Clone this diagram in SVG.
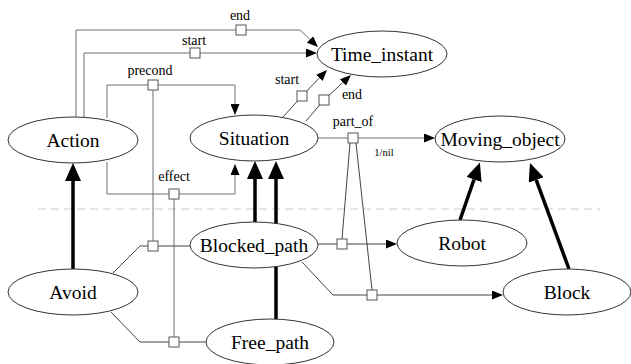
<svg xmlns="http://www.w3.org/2000/svg" width="631" height="364" viewBox="0 0 631 364">
<defs>
  <marker id="ah" markerUnits="userSpaceOnUse" viewBox="0 0 11 9" refX="0" refY="4.5" markerWidth="11" markerHeight="9" orient="auto">
    <path d="M0,0 L11,4.5 L0,9 z" fill="#000" stroke="none"/>
  </marker>
  <marker id="ahb" markerUnits="userSpaceOnUse" viewBox="0 0 18 16" refX="0" refY="8" markerWidth="18" markerHeight="16" orient="auto">
    <path d="M0,0 L18,8 L0,16 z" fill="#000" stroke="none"/>
  </marker>
</defs>
<line x1="38" y1="209" x2="600" y2="209" stroke="#cccccc" stroke-width="1" stroke-dasharray="8,5"/>
<g id="connectors">
  <g fill="none" stroke="#6e6e6e" stroke-width="1">
    <path d="M76,117 V30 H300 L310,39.4" marker-end="url(#ah)"/>
    <path d="M84,117 V53 H306" marker-end="url(#ah)"/>
    <path d="M107,118 V85 H235 V104" marker-end="url(#ah)"/>
    <path d="M153,90 V241"/>
    <path d="M107,162 V194 H235 V175" marker-end="url(#ah)"/>
    <path d="M174,199 V337"/>
    <path d="M318,138 H424" marker-end="url(#ah)"/>
  </g>
  <g fill="none" stroke="#444444" stroke-width="1">
    <path d="M113,273 L140,246 H190"/>
    <path d="M111,312 L140,342 H206"/>
    <path d="M283,117 L302,96 L319.4,77.9" marker-end="url(#ah)"/>
    <path d="M306,121 L324,100 L342.9,82.5" marker-end="url(#ah)"/>
    <path d="M350,143 L342,239"/>
    <path d="M356,143 L372,290"/>
    <path d="M318,244 H386" marker-end="url(#ah)"/>
    <path d="M302,262 L333,295 H492" marker-end="url(#ah)"/>
  </g>
  <g fill="none" stroke="#000" stroke-width="3.5">
    <path d="M73,269 V181" marker-end="url(#ahb)"/>
    <path d="M255,222 V179" marker-end="url(#ahb)"/>
    <path d="M276,319 V179" marker-end="url(#ahb)"/>
    <path d="M460,220 L474,179.5" marker-end="url(#ahb)"/>
    <path d="M569,269 L536.2,179.9" marker-end="url(#ahb)"/>
  </g>
  <g fill="#ffffff" stroke="#555555" stroke-width="1">
    <rect x="236" y="25" width="10" height="10"/>
    <rect x="190" y="48" width="10" height="10"/>
    <rect x="148" y="80" width="10" height="10"/>
    <rect x="169" y="189" width="10" height="10"/>
    <rect x="148" y="241" width="10" height="10"/>
    <rect x="169" y="337" width="10" height="10"/>
    <rect x="297" y="91" width="10" height="10"/>
    <rect x="319" y="95" width="10" height="10"/>
    <rect x="348" y="133" width="10" height="10"/>
    <rect x="337" y="239" width="10" height="10"/>
    <rect x="367" y="290" width="10" height="10"/>
  </g>
  <g font-family="Liberation Serif, serif" font-size="14" text-anchor="middle" fill="#000">
    <text x="240" y="20">end</text>
    <text x="194" y="45">start</text>
    <text x="150" y="75">precond</text>
    <text x="174" y="181">effect</text>
    <text x="287" y="84">start</text>
    <text x="352" y="99">end</text>
    <text x="353" y="126">part_of</text>
    <text x="384" y="156" font-size="10.5">1/nil</text>
  </g>
</g>
<g fill="#ffffff" stroke="#333333" stroke-width="1">
<g id="Time_instant"><ellipse cx="382" cy="54" rx="65" ry="23"/></g>
<g id="Action"><ellipse cx="73" cy="140" rx="65" ry="23"/></g>
<g id="Situation"><ellipse cx="254" cy="138" rx="64" ry="23"/></g>
<g id="Moving_object"><ellipse cx="500" cy="139" rx="65" ry="23"/></g>
<g id="Blocked_path"><ellipse cx="254" cy="245" rx="64" ry="23"/></g>
<g id="Robot"><ellipse cx="462" cy="243" rx="65" ry="23"/></g>
<g id="Avoid"><ellipse cx="73" cy="292" rx="65" ry="23"/></g>
<g id="Block"><ellipse cx="567" cy="292" rx="64" ry="23"/></g>
<g id="Free_path"><ellipse cx="270" cy="342" rx="64" ry="23"/></g>
</g>
<g font-family="Liberation Serif, serif" font-size="19.5" text-anchor="middle" fill="#000">
<text x="382" y="61">Time_instant</text>
<text x="73" y="147">Action</text>
<text x="254" y="145">Situation</text>
<text x="500" y="146">Moving_object</text>
<text x="254" y="252">Blocked_path</text>
<text x="462" y="250">Robot</text>
<text x="73" y="299">Avoid</text>
<text x="567" y="299">Block</text>
<text x="270" y="349">Free_path</text>
</g>
</svg>
